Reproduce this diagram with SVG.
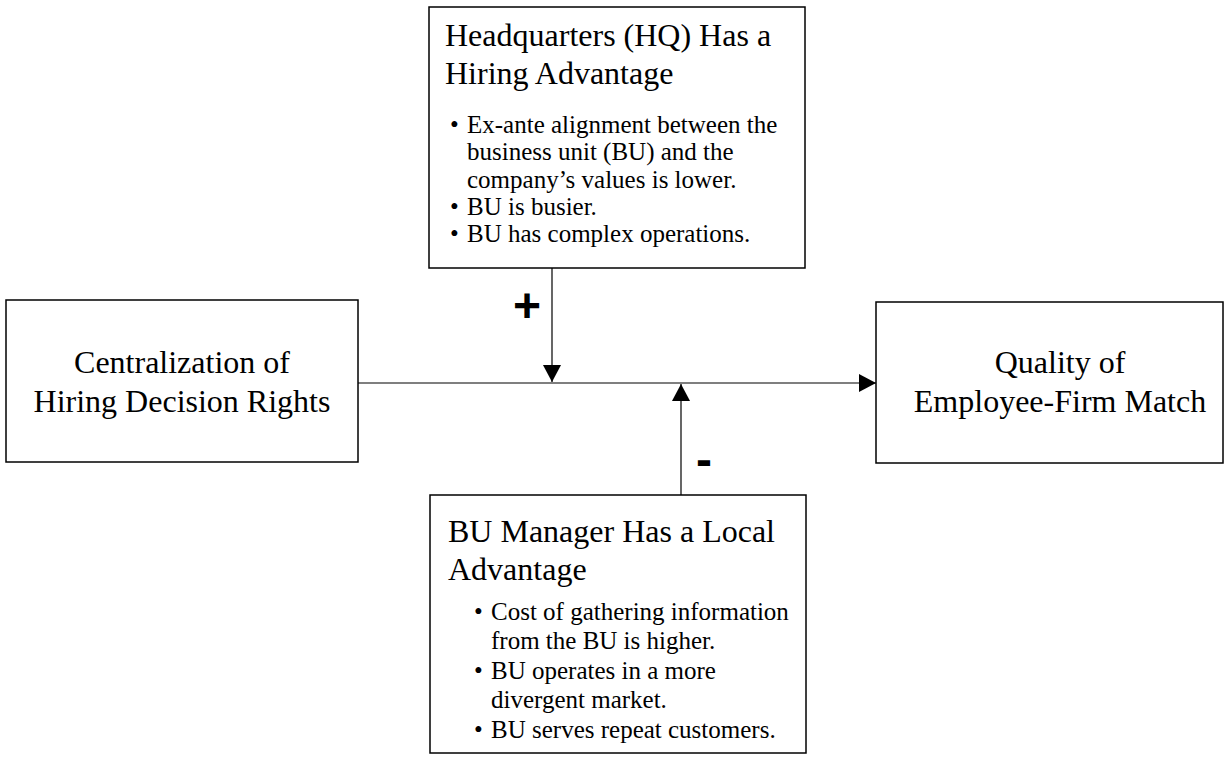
<svg xmlns="http://www.w3.org/2000/svg" width="1225" height="757" viewBox="0 0 1225 757">
<style>
.box{fill:#fff;stroke:#000;stroke-width:1.5}
.t{font-family:"Liberation Serif","Times New Roman",serif;fill:#000}
.title{font-size:32px}
.bul{font-size:25px}
.sign{font-family:"Liberation Sans",Arial,sans-serif;font-weight:bold;font-size:48px;fill:#000}
.conn{stroke:#000;stroke-width:1.2;fill:none}
</style>
<defs>
<marker id="arr" markerWidth="18" markerHeight="18" refX="17" refY="9" orient="auto" markerUnits="userSpaceOnUse">
<path d="M0,0 L17,9 L0,18 Z" fill="#000"/>
</marker>
</defs>
<rect width="1225" height="757" fill="#fff"/>
<g id="connectors">
<line class="conn" x1="358" y1="383" x2="876" y2="383" marker-end="url(#arr)"/>
<line class="conn" x1="552" y1="268" x2="552" y2="382" marker-end="url(#arr)"/>
<line class="conn" x1="681" y1="495" x2="681" y2="384" marker-end="url(#arr)"/>
<text class="sign" x="527" y="322" text-anchor="middle">+</text>
<text class="sign" x="704" y="476" text-anchor="middle">-</text>
</g>
<g id="node-hq">
<rect class="box" x="429" y="7" width="376" height="261"/>
<text class="t title" x="445" y="46">Headquarters (HQ) Has a</text>
<text class="t title" x="445" y="84">Hiring Advantage</text>
<g class="t bul">
<text x="450" y="133">•</text><text x="467" y="133">Ex-ante alignment between the</text>
<text x="467" y="160">business unit (BU) and the</text>
<text x="467" y="188">company’s values is lower.</text>
<text x="450" y="215">•</text><text x="467" y="215">BU is busier.</text>
<text x="450" y="242">•</text><text x="467" y="242">BU has complex operations.</text>
</g>
</g>
<g id="node-central">
<rect class="box" x="6" y="300" width="352" height="162"/>
<text class="t title" x="182" y="373" text-anchor="middle">Centralization of</text>
<text class="t title" x="182" y="412" text-anchor="middle">Hiring Decision Rights</text>
</g>
<g id="node-quality">
<rect class="box" x="876" y="302" width="347" height="161"/>
<text class="t title" x="1060" y="373" text-anchor="middle">Quality of</text>
<text class="t title" x="1060" y="412" text-anchor="middle">Employee-Firm Match</text>
</g>
<g id="node-bu">
<rect class="box" x="430" y="495" width="376" height="258"/>
<text class="t title" x="448" y="542">BU Manager Has a Local</text>
<text class="t title" x="448" y="580">Advantage</text>
<g class="t bul">
<text x="474" y="620">•</text><text x="491" y="620">Cost of gathering information</text>
<text x="491" y="649">from the BU is higher.</text>
<text x="474" y="679">•</text><text x="491" y="679">BU operates in a more</text>
<text x="491" y="708">divergent market.</text>
<text x="474" y="738">•</text><text x="491" y="738">BU serves repeat customers.</text>
</g>
</g>
</svg>
